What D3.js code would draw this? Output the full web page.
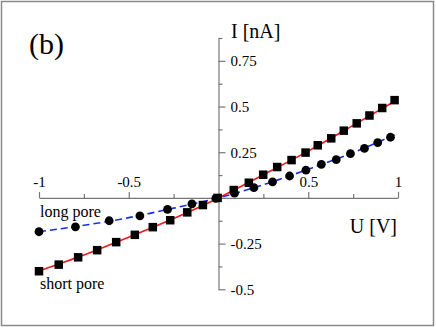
<!DOCTYPE html>
<html>
<head>
<meta charset="utf-8">
<script src="https://cdn.jsdelivr.net/npm/d3@7"></script>
<style>
  body { margin: 0; background: #fff; }
  svg { display: block; font-family: "Liberation Serif", "DejaVu Serif", serif; }
</style>
</head>
<body>
<div id="chart"></div>
<script>
var width = 436, height = 328;

// short pore (squares)
var shortU = [-1.0, -0.89, -0.782, -0.676, -0.57, -0.466, -0.366, -0.269, -0.174, -0.087, -0.005,
              0.085, 0.169, 0.249, 0.327, 0.407, 0.485, 0.553, 0.628, 0.698, 0.77, 0.841, 0.912, 0.981];
var shortI = [-0.401, -0.365, -0.325, -0.286, -0.242, -0.202, -0.16, -0.122, -0.079, -0.039, 0.0,
              0.043, 0.083, 0.127, 0.169, 0.207, 0.248, 0.288, 0.326, 0.368, 0.408, 0.451, 0.492, 0.535];
// long pore (circles)
var longU = [-1.0, -0.797, -0.609, -0.438, -0.284, -0.148, -0.015,
             0.089, 0.197, 0.301, 0.396, 0.487, 0.573, 0.656, 0.735, 0.813, 0.887, 0.958];
var longI = [-0.185, -0.158, -0.125, -0.098, -0.063, -0.033, -0.003,
             0.026, 0.056, 0.088, 0.12, 0.152, 0.184, 0.209, 0.242, 0.271, 0.303, 0.332];
// fitted curves
var fitU = [-1, -0.75, -0.5, -0.25, 0, 0.25, 0.5, 0.75, 1];
var shortFit = [-0.40, -0.313, -0.215, -0.113, 0, 0.127, 0.256, 0.397, 0.54];
var longFit = [-0.185, -0.15, -0.108, -0.056, 0, 0.072, 0.157, 0.248, 0.353];

var xTicks = [-1, -0.75, -0.5, -0.25, 0.25, 0.5, 0.75, 1];
var xLabels = {"-1": "-1", "-0.5": "-0.5", "0.5": "0.5", "1": "1"};
var yTicks = [-0.5, -0.375, -0.25, -0.125, 0.125, 0.25, 0.375, 0.5, 0.625, 0.75, 0.875];
var yLabels = {"-0.5": "-0.5", "-0.25": "-0.25", "0.25": "0.25", "0.5": "0.5", "0.75": "0.75"};

var svg = d3.select("#chart").append("svg")
    .attr("width", width)
    .attr("height", height);

// frame
svg.append("rect")
    .attr("x", 1.5).attr("y", 1.5)
    .attr("width", width - 4).attr("height", height - 4)
    .attr("fill", "none")
    .attr("stroke", "#8a8a8a")
    .attr("stroke-width", 1.5);

var x = d3.scaleLinear().domain([-1, 1]).range([39, 398]);
var y = d3.scaleLinear().domain([-0.5, 0.875]).range([289.3, 38]);

var axisColor = "#777";

// x axis (ticks point up, labels above)
var gx = svg.append("g")
    .attr("transform", "translate(0," + y(0) + ")")
    .call(d3.axisTop(x).tickValues(xTicks).tickSizeOuter(0)
        .tickFormat(function (d) { return xLabels[String(d)] || ""; }));
gx.selectAll(".tick line").attr("y2", function (d) { return xLabels[String(d)] ? -6 : -4; });
gx.selectAll(".tick text").attr("y", -11).attr("dy", 0);

// y axis (ticks point right, labels right)
var gy = svg.append("g")
    .attr("transform", "translate(" + x(0) + ",0)")
    .call(d3.axisRight(y).tickValues(yTicks).tickSizeOuter(0).tickPadding(6)
        .tickFormat(function (d) { return yLabels[String(d)] || ""; }));
gy.selectAll(".tick line").attr("x2", function (d) { return yLabels[String(d)] ? 7 : 4; });
gy.selectAll(".tick text").attr("x", 12);

[gx, gy].forEach(function (g) {
    g.select(".domain").attr("stroke", axisColor).attr("stroke-width", 1.2);
    g.selectAll(".tick line").attr("stroke", axisColor).attr("stroke-width", 1.2);
    g.selectAll(".tick text").attr("fill", "#000")
        .attr("font-family", "Liberation Serif").attr("font-size", 15);
});

// axis titles
svg.append("text")
    .text("I [nA]")
    .attr("x", 231).attr("y", 38)
    .attr("font-size", 20);
svg.append("text")
    .text("U [V]")
    .attr("x", 397).attr("y", 233)
    .attr("text-anchor", "end")
    .attr("font-size", 20);
svg.append("text")
    .text("(b)")
    .attr("x", 29).attr("y", 54)
    .attr("font-size", 30);
svg.append("text")
    .text("long pore")
    .attr("x", 40).attr("y", 217)
    .attr("font-size", 16);
svg.append("text")
    .text("short pore")
    .attr("x", 40).attr("y", 289)
    .attr("font-size", 16);

// fit lines
var line = d3.line()
    .x(function (d) { return x(d[0]); })
    .y(function (d) { return y(d[1]); })
    .curve(d3.curveMonotoneX);

svg.append("path")
    .datum(fitU.map(function (u, i) { return [u, longFit[i]]; }))
    .attr("d", line)
    .attr("fill", "none")
    .attr("stroke", "#1a2ee8")
    .attr("stroke-width", 1.6)
    .attr("stroke-dasharray", "7,4");

svg.append("path")
    .datum(fitU.map(function (u, i) { return [u, shortFit[i]]; }))
    .attr("d", line)
    .attr("fill", "none")
    .attr("stroke", "#f01818")
    .attr("stroke-width", 1.6);

// markers
var sq = 8.5;
svg.append("g").selectAll("rect")
    .data(shortU.map(function (u, i) { return [u, shortI[i]]; }))
    .enter().append("rect")
    .attr("x", function (d) { return x(d[0]) - sq / 2; })
    .attr("y", function (d) { return y(d[1]) - sq / 2; })
    .attr("width", sq).attr("height", sq)
    .attr("fill", "#000");

svg.append("g").selectAll("circle")
    .data(longU.map(function (u, i) { return [u, longI[i]]; }))
    .enter().append("circle")
    .attr("cx", function (d) { return x(d[0]); })
    .attr("cy", function (d) { return y(d[1]); })
    .attr("r", 4.4)
    .attr("fill", "#000");
</script>
</body>
</html>
